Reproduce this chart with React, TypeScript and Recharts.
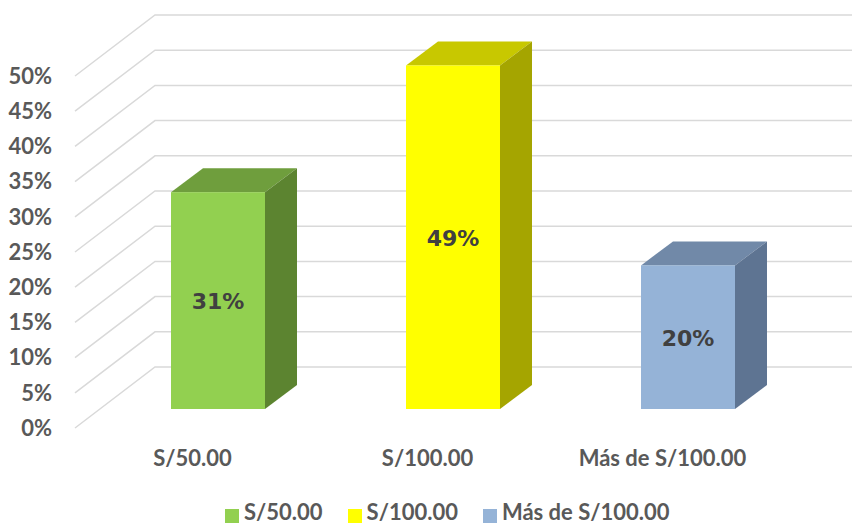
import { BarChart, Bar, XAxis, YAxis, CartesianGrid } from "recharts";

const categories = ["S/50.00", "S/100.00", "Más de S/100.00"];
const shares = [30.8, 48.8, 20.4];
const percentTicks = [0, 5, 10, 15, 20, 25, 30, 35, 40, 45, 50];

const frontColors = ["#92d050", "#ffff00", "#95b3d7"];
const topColors = ["#6f9e3d", "#c8c800", "#7189a8"];
const sideColors = ["#5c8430", "#a5a500", "#5e7492"];

const data = categories.map((name, i) => ({ name, share: shares[i] }));

// oblique projection of the floor: front edge -> back wall
const DEPTH_X = 80;
const DEPTH_Y = 61;
// bars stand a bit behind the front edge, and have their own depth
const BAR_OFFSET_X = 25;
const BAR_OFFSET_Y = 19;
const BAR_DEPTH_X = 32;
const BAR_DEPTH_Y = 24;

const axisFont = {
  fill: "#595959",
  fontSize: 22,
  fontWeight: 700,
  fontFamily: "Lato",
};

const gridLine = (p: any) => {
  const { x1, y1, x2 } = p;
  const by = y1 - DEPTH_Y;
  return (
    <polyline
      key={p.key ?? `grid-${p.index}`}
      points={`${x1},${y1} ${x1 + DEPTH_X},${by} ${x2 + DEPTH_X},${by}`}
      fill="none"
      stroke="#d9d9d9"
      strokeWidth={1.5}
    />
  );
};

const Box = (props: any) => {
  const { x, y, width, height, payload } = props;
  const i = categories.indexOf(payload.name);
  const fx = x + BAR_OFFSET_X;
  const fy = y - BAR_OFFSET_Y;
  const r = fx + width;
  const b = fy + height;
  return (
    <g>
      <polygon
        points={`${fx},${fy} ${fx + BAR_DEPTH_X},${fy - BAR_DEPTH_Y} ${r + BAR_DEPTH_X},${fy - BAR_DEPTH_Y} ${r},${fy}`}
        fill={topColors[i]}
      />
      <polygon
        points={`${r},${fy} ${r + BAR_DEPTH_X},${fy - BAR_DEPTH_Y} ${r + BAR_DEPTH_X},${b - BAR_DEPTH_Y} ${r},${b}`}
        fill={sideColors[i]}
      />
      <rect x={fx} y={fy} width={width} height={height} fill={frontColors[i]} />
      <text
        x={fx + width / 2}
        y={fy + height / 2 + 8.5}
        textAnchor="middle"
        fill="#404040"
        fontSize={22}
        fontWeight={700}
        fontFamily="DejaVu Sans"
      >
        {Math.round(payload.share)}%
      </text>
    </g>
  );
};

export default function App() {
  return (
    <div style={{ position: "absolute", left: 0, top: 0, width: 852, height: 524, background: "#fff", overflow: "hidden" }}>
      <BarChart
        width={852}
        height={524}
        data={data}
        barSize={94}
        margin={{ top: 76, right: 72, bottom: 46, left: 0 }}
      >
        <CartesianGrid vertical={false} horizontal={gridLine} />
        <XAxis
          dataKey="name"
          axisLine={false}
          tickLine={false}
          tickMargin={16}
          height={50}
          interval={0}
          tick={axisFont}
        />
        <YAxis
          type="number"
          domain={[0, 50]}
          ticks={percentTicks}
          interval={0}
          tickFormatter={(v) => `${v}%`}
          axisLine={false}
          tickLine={false}
          width={75}
          tickMargin={17}
          tick={axisFont}
        />
        <Bar dataKey="share" shape={Box} isAnimationActive={false} />
      </BarChart>
      <div
        style={{
          position: "absolute",
          left: 225,
          top: 501,
          display: "flex",
          fontFamily: "Lato",
          fontWeight: 700,
          fontSize: 22,
          lineHeight: "22px",
          color: "#595959",
          whiteSpace: "nowrap",
        }}
      >
        {categories.map((c, i) => (
          <div key={c} style={{ display: "flex", alignItems: "flex-start", marginRight: 25 }}>
            <span
              style={{
                width: 14,
                height: 14,
                marginTop: 8,
                marginRight: 5,
                background: frontColors[i],
              }}
            />
            <span>{c}</span>
          </div>
        ))}
      </div>
    </div>
  );
}
